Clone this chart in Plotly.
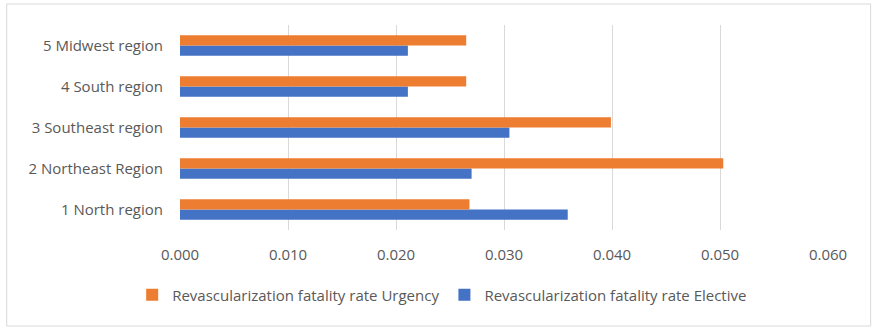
import plotly.graph_objects as go

categories = ["1 North region", "2 Northeast Region", "3 Southeast region", "4 South region", "5 Midwest region"]
elective = [0.0359, 0.0270, 0.0305, 0.0211, 0.0211]
urgency = [0.0268, 0.0503, 0.0399, 0.0265, 0.0265]
x_ticks = [0, 0.01, 0.02, 0.03, 0.04, 0.05, 0.06]

BLUE = "#4472C4"
ORANGE = "#ED7D31"
GREY = "#595959"
FONT = "Open Sans"

fig = go.Figure()
fig.add_trace(go.Bar(y=categories, x=elective, orientation="h", name="Revascularization fatality rate Elective",
                     marker=dict(color=BLUE, line=dict(width=0))))
fig.add_trace(go.Bar(y=categories, x=urgency, orientation="h", name="Revascularization fatality rate Urgency",
                     marker=dict(color=ORANGE, line=dict(width=0))))

W, H = 880, 333
L, R, T, B = 179.5, 51.7, 25, 103
pw = W - L - R
ph = H - T - B

def px_x(p):
    return (p - L) / pw

def px_y(p):
    return (H - B - p) / ph

fig.update_layout(
    width=W, height=H,
    margin=dict(l=L, r=R, t=T, b=B, pad=0),
    paper_bgcolor="white", plot_bgcolor="white",
    barmode="group", bargap=0.5, bargroupgap=0,
    font=dict(family=FONT, size=15, color=GREY),
    showlegend=True,
    legend=dict(orientation="h", x=px_x(442), xanchor="center", y=px_y(295), yanchor="middle",
                traceorder="reversed", font=dict(size=15, color=GREY),
                itemwidth=30, tracegroupgap=0),
    xaxis=dict(range=[0, 0.06], tickvals=x_ticks, tickformat=".3f", showgrid=True,
               gridcolor="#D9D9D9", gridwidth=1, zeroline=False, showline=False,
               ticks="", ticklabelstandoff=14, fixedrange=True),
    yaxis=dict(showgrid=False, zeroline=False, showline=False, ticks="",
               ticklabelstandoff=16, fixedrange=True),
    shapes=[dict(type="rect", xref="paper", yref="paper",
                 x0=px_x(6), x1=px_x(871), y0=px_y(326), y1=px_y(4),
                 line=dict(color="#D9D9D9", width=1), layer="below")],
)

fig.write_html("out.html")
